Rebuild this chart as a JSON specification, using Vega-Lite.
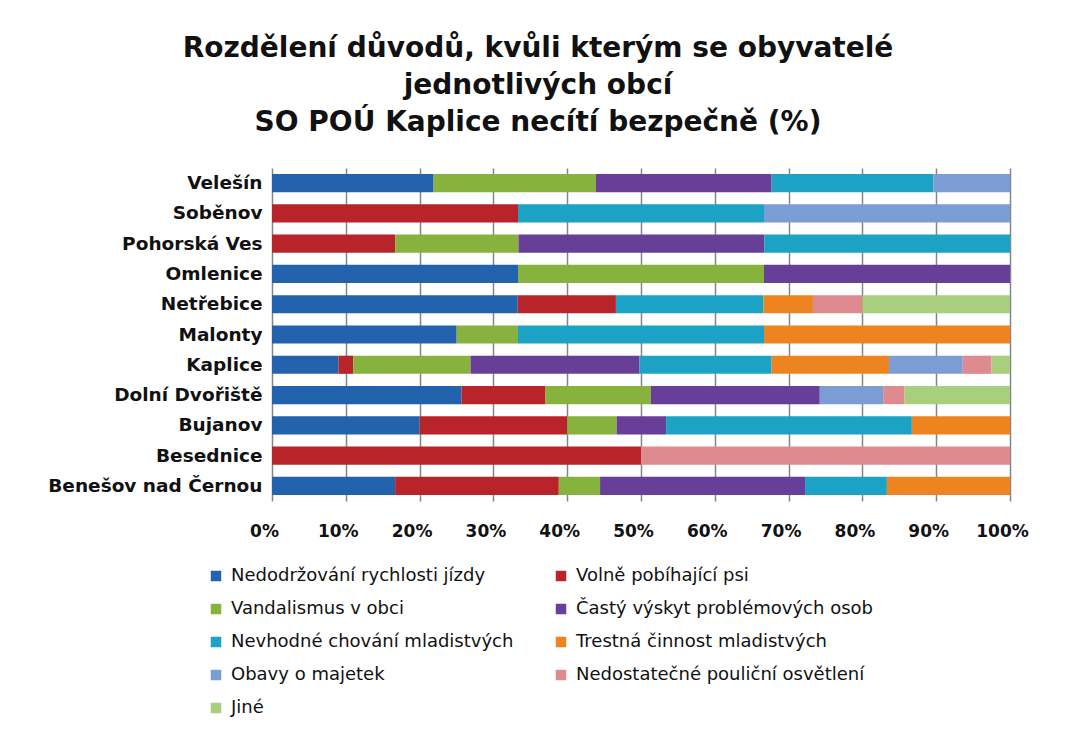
{
  "$schema": "https://vega.github.io/schema/vega-lite/v6.json",
  "width": 738,
  "height": 333,
  "autosize": "none",
  "padding": {"left": 272, "top": 168, "right": 68, "bottom": 228},
  "background": "white",
  "title": {
    "text": ["Rozdělení důvodů, kvůli kterým se obyvatelé", "jednotlivých obcí", "SO POÚ Kaplice necítí bezpečně (%)"],
    "anchor": "middle",
    "frame": "bounds",
    "font": "DejaVu Sans",
    "fontSize": 28,
    "fontWeight": "bold",
    "color": "#111111",
    "lineHeight": 37,
    "offset": 31
  },
  "data": {
    "values": [
      {"obec": "Velešín", "duvod": "Nedodržování rychlosti jízdy", "k": 1, "v": 21.9},
      {"obec": "Velešín", "duvod": "Vandalismus v obci", "k": 3, "v": 22.0},
      {"obec": "Velešín", "duvod": "Častý výskyt problémových osob", "k": 4, "v": 23.8},
      {"obec": "Velešín", "duvod": "Nevhodné chování mladistvých", "k": 5, "v": 21.9},
      {"obec": "Velešín", "duvod": "Obavy o majetek", "k": 7, "v": 10.4},
      {"obec": "Soběnov", "duvod": "Volně pobíhající psi", "k": 2, "v": 33.3},
      {"obec": "Soběnov", "duvod": "Nevhodné chování mladistvých", "k": 5, "v": 33.3},
      {"obec": "Soběnov", "duvod": "Obavy o majetek", "k": 7, "v": 33.3},
      {"obec": "Pohorská Ves", "duvod": "Volně pobíhající psi", "k": 2, "v": 16.7},
      {"obec": "Pohorská Ves", "duvod": "Vandalismus v obci", "k": 3, "v": 16.7},
      {"obec": "Pohorská Ves", "duvod": "Častý výskyt problémových osob", "k": 4, "v": 33.3},
      {"obec": "Pohorská Ves", "duvod": "Nevhodné chování mladistvých", "k": 5, "v": 33.3},
      {"obec": "Omlenice", "duvod": "Nedodržování rychlosti jízdy", "k": 1, "v": 33.3},
      {"obec": "Omlenice", "duvod": "Vandalismus v obci", "k": 3, "v": 33.3},
      {"obec": "Omlenice", "duvod": "Častý výskyt problémových osob", "k": 4, "v": 33.3},
      {"obec": "Netřebice", "duvod": "Nedodržování rychlosti jízdy", "k": 1, "v": 33.3},
      {"obec": "Netřebice", "duvod": "Volně pobíhající psi", "k": 2, "v": 13.3},
      {"obec": "Netřebice", "duvod": "Nevhodné chování mladistvých", "k": 5, "v": 20.0},
      {"obec": "Netřebice", "duvod": "Trestná činnost mladistvých", "k": 6, "v": 6.7},
      {"obec": "Netřebice", "duvod": "Nedostatečné pouliční osvětlení", "k": 8, "v": 6.7},
      {"obec": "Netřebice", "duvod": "Jiné", "k": 9, "v": 20.0},
      {"obec": "Malonty", "duvod": "Nedodržování rychlosti jízdy", "k": 1, "v": 25.0},
      {"obec": "Malonty", "duvod": "Vandalismus v obci", "k": 3, "v": 8.3},
      {"obec": "Malonty", "duvod": "Nevhodné chování mladistvých", "k": 5, "v": 33.3},
      {"obec": "Malonty", "duvod": "Trestná činnost mladistvých", "k": 6, "v": 33.3},
      {"obec": "Kaplice", "duvod": "Nedodržování rychlosti jízdy", "k": 1, "v": 9.0},
      {"obec": "Kaplice", "duvod": "Volně pobíhající psi", "k": 2, "v": 2.0},
      {"obec": "Kaplice", "duvod": "Vandalismus v obci", "k": 3, "v": 15.9},
      {"obec": "Kaplice", "duvod": "Častý výskyt problémových osob", "k": 4, "v": 22.9},
      {"obec": "Kaplice", "duvod": "Nevhodné chování mladistvých", "k": 5, "v": 17.9},
      {"obec": "Kaplice", "duvod": "Trestná činnost mladistvých", "k": 6, "v": 15.9},
      {"obec": "Kaplice", "duvod": "Obavy o majetek", "k": 7, "v": 10.0},
      {"obec": "Kaplice", "duvod": "Nedostatečné pouliční osvětlení", "k": 8, "v": 3.9},
      {"obec": "Kaplice", "duvod": "Jiné", "k": 9, "v": 2.5},
      {"obec": "Dolní Dvořiště", "duvod": "Nedodržování rychlosti jízdy", "k": 1, "v": 25.7},
      {"obec": "Dolní Dvořiště", "duvod": "Volně pobíhající psi", "k": 2, "v": 11.4},
      {"obec": "Dolní Dvořiště", "duvod": "Vandalismus v obci", "k": 3, "v": 14.3},
      {"obec": "Dolní Dvořiště", "duvod": "Častý výskyt problémových osob", "k": 4, "v": 22.9},
      {"obec": "Dolní Dvořiště", "duvod": "Obavy o majetek", "k": 7, "v": 8.6},
      {"obec": "Dolní Dvořiště", "duvod": "Nedostatečné pouliční osvětlení", "k": 8, "v": 2.9},
      {"obec": "Dolní Dvořiště", "duvod": "Jiné", "k": 9, "v": 14.3},
      {"obec": "Bujanov", "duvod": "Nedodržování rychlosti jízdy", "k": 1, "v": 20.0},
      {"obec": "Bujanov", "duvod": "Volně pobíhající psi", "k": 2, "v": 20.0},
      {"obec": "Bujanov", "duvod": "Vandalismus v obci", "k": 3, "v": 6.7},
      {"obec": "Bujanov", "duvod": "Častý výskyt problémových osob", "k": 4, "v": 6.7},
      {"obec": "Bujanov", "duvod": "Nevhodné chování mladistvých", "k": 5, "v": 33.3},
      {"obec": "Bujanov", "duvod": "Trestná činnost mladistvých", "k": 6, "v": 13.3},
      {"obec": "Besednice", "duvod": "Volně pobíhající psi", "k": 2, "v": 50.0},
      {"obec": "Besednice", "duvod": "Nedostatečné pouliční osvětlení", "k": 8, "v": 50.0},
      {"obec": "Benešov nad Černou", "duvod": "Nedodržování rychlosti jízdy", "k": 1, "v": 16.7},
      {"obec": "Benešov nad Černou", "duvod": "Volně pobíhající psi", "k": 2, "v": 22.2},
      {"obec": "Benešov nad Černou", "duvod": "Vandalismus v obci", "k": 3, "v": 5.6},
      {"obec": "Benešov nad Černou", "duvod": "Častý výskyt problémových osob", "k": 4, "v": 27.8},
      {"obec": "Benešov nad Černou", "duvod": "Nevhodné chování mladistvých", "k": 5, "v": 11.1},
      {"obec": "Benešov nad Černou", "duvod": "Trestná činnost mladistvých", "k": 6, "v": 16.7}
    ]
  },
  "mark": {"type": "bar", "stroke": null},
  "encoding": {
    "y": {
      "field": "obec",
      "type": "nominal",
      "sort": ["Velešín", "Soběnov", "Pohorská Ves", "Omlenice", "Netřebice", "Malonty", "Kaplice", "Dolní Dvořiště", "Bujanov", "Besednice", "Benešov nad Černou"],
      "scale": {"paddingInner": 0.4, "paddingOuter": 0.2},
      "axis": {
        "title": null,
        "domain": false,
        "ticks": false,
        "grid": false,
        "labelFont": "DejaVu Sans",
        "labelFontSize": 18.5,
        "labelFontWeight": "bold",
        "labelColor": "#111111",
        "labelPadding": 10,
        "labelLimit": 300
      }
    },
    "x": {
      "field": "v",
      "type": "quantitative",
      "stack": "normalize",
      "scale": {"domain": [0, 1]},
      "axis": {
        "title": null,
        "format": ".0%",
        "values": [0, 0.1, 0.2, 0.3, 0.4, 0.5, 0.6, 0.7, 0.8, 0.9, 1],
        "domain": false,
        "ticks": false,
        "grid": true,
        "gridColor": "#80868c",
        "gridOpacity": 1,
        "gridWidth": 1.5,
        "labelFlush": false,
        "labelOverlap": false,
        "labelFont": "DejaVu Sans",
        "labelFontSize": 17,
        "labelFontWeight": "bold",
        "labelColor": "#111111",
        "labelPadding": 22,
        "labelOffset": -8
      }
    },
    "order": {"field": "k", "type": "quantitative"},
    "color": {
      "field": "duvod",
      "type": "nominal",
      "scale": {
        "domain": ["Nedodržování rychlosti jízdy", "Volně pobíhající psi", "Vandalismus v obci", "Častý výskyt problémových osob", "Nevhodné chování mladistvých", "Trestná činnost mladistvých", "Obavy o majetek", "Nedostatečné pouliční osvětlení", "Jiné"],
        "range": ["#2363ad", "#b8242a", "#87b23e", "#673f98", "#1ba2c5", "#ee8420", "#7c9dd3", "#de8a8f", "#a8cf7e"]
      },
      "legend": {
        "title": null,
        "orient": "none",
        "direction": "horizontal",
        "legendX": -65,
        "legendY": 399,
        "columns": 2,
        "columnPadding": 38,
        "rowPadding": 15,
        "symbolType": "square",
        "symbolSize": 110,
        "symbolStrokeWidth": 0,
        "labelFont": "DejaVu Sans",
        "labelFontSize": 18,
        "labelColor": "#111111",
        "labelLimit": 400,
        "labelOffset": 6
      }
    }
  },
  "config": {
    "view": {"stroke": null},
    "axisX": {"grid": true}
  }
}
